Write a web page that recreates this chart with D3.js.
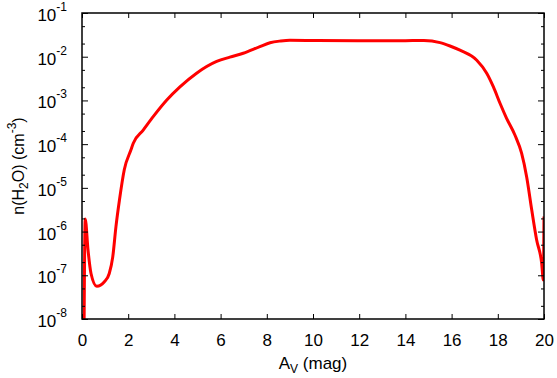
<!DOCTYPE html>
<html>
<head>
<meta charset="utf-8">
<script src="https://cdn.jsdelivr.net/npm/d3@7"></script>
<style>
  body { margin: 0; background: #fff; }
  svg { display: block; }
  text { font-family: "Liberation Sans", Arial, sans-serif; fill: #000; }
</style>
</head>
<body>
<div class="container"></div>
<script>
// visual extinction (mag) and water density (cm^-3)
const av = [0.08, 0.14, 0.26, 0.39, 0.64, 0.97, 1.18, 1.33, 1.47, 1.62, 1.83, 2.12, 2.22, 2.65,
    3.09, 3.67, 4.24, 4.96, 5.83, 6.4, 6.98, 7.7, 8.14, 8.6, 9.0, 10.2, 12.0, 14.0, 14.8, 15.5,
    15.93, 16.36, 17.09, 17.52, 17.81, 18.1, 18.38, 18.74, 19.03, 19.25, 19.47, 19.68,
    19.9, 19.97, 20.0]
const nH2O = [1e-9, 1.95e-6, 3.8e-7, 1.1e-7, 5.6e-8, 7.1e-8, 1.1e-7, 2.6e-7, 1.3e-6, 5.2e-6,
    2.6e-5, 7.4e-5, 1.05e-4, 2.1e-4, 4.3e-4, 1.02e-3, 2.04e-3, 4.2e-3, 7.8e-3, 9.8e-3,
    1.2e-2, 1.7e-2, 2.09e-2, 2.29e-2, 2.38e-2, 2.34e-2, 2.32e-2, 2.33e-2, 2.34e-2, 2.1e-2,
    1.76e-2, 1.41e-2, 8.3e-3, 4.2e-3, 2.04e-3, 8.5e-4, 3.9e-4, 1.62e-4, 6.2e-5, 1.78e-5,
    3.1e-6, 6.5e-7, 1.86e-7, 7.8e-8, 2.2e-6]

const xTicks = [0, 2, 4, 6, 8, 10, 12, 14, 16, 18, 20]
const yTicks = [1e-8, 1e-7, 1e-6, 1e-5, 1e-4, 1e-3, 1e-2, 1e-1]
const yMinor = yTicks.slice(0, -1).flatMap(d => [2 * d, 5 * d])

const data = av.map((d, i) => ({av: d, n: nH2O[i]}))

const outerWidth = 557
const outerHeight = 378
const margin = {top: 13, bottom: 59, left: 82, right: 13}
const width = outerWidth - margin.left - margin.right
const height = outerHeight - margin.top - margin.bottom

const svg = d3.select(".container")
    .append("svg")
    .attr("width", outerWidth)
    .attr("height", outerHeight)
    .append("g")
    .attr("transform", `translate(${margin.left}, ${margin.top})`)

const x = d3.scaleLinear().domain([0, 20]).range([0, width])
const y = d3.scaleLog().domain([1e-8, 1e-1]).range([height, 0])

svg.append("clipPath").attr("id", "clip")
    .append("rect").attr("width", width).attr("height", height)

// curve
const line = d3.line()
    .x(d => x(d.av))
    .y(d => y(d.n))
    .curve(d3.curveMonotoneX)

svg.append("path")
    .datum(data)
    .attr("clip-path", "url(#clip)")
    .attr("d", line)
    .attr("fill", "none")
    .attr("stroke", "#ff0000")
    .attr("stroke-width", 3)
    .attr("stroke-linejoin", "round")

// axes, ticks pointing inward
const styleAxis = g => {
    g.select(".domain").remove()
    g.selectAll(".tick line").attr("stroke", "#000").attr("stroke-width", 1)
}

svg.append("g")
    .attr("transform", `translate(0, ${height})`)
    .call(d3.axisBottom(x).tickValues(xTicks).tickSize(-5).tickPadding(15).tickFormat(d3.format("d")))
    .call(styleAxis)
    .call(g => g.selectAll("text").attr("font-size", 17).attr("font-family", "Liberation Sans, Arial, sans-serif"))

svg.append("g")
    .call(d3.axisTop(x).tickValues(xTicks).tickSize(-5).tickFormat(""))
    .call(styleAxis)

svg.append("g")
    .call(d3.axisLeft(y).tickValues(yTicks).tickSize(-6).tickFormat(""))
    .call(styleAxis)

svg.append("g")
    .call(d3.axisLeft(y).tickValues(yMinor).tickSize(-3).tickFormat(""))
    .call(styleAxis)

svg.append("g")
    .attr("transform", `translate(${width}, 0)`)
    .call(d3.axisRight(y).tickValues(yTicks).tickSize(-6).tickFormat(""))
    .call(styleAxis)

svg.append("g")
    .attr("transform", `translate(${width}, 0)`)
    .call(d3.axisRight(y).tickValues(yMinor).tickSize(-3).tickFormat(""))
    .call(styleAxis)

// y tick labels as 10^n
const yLab = svg.append("g").selectAll("text")
    .data(yTicks)
    .join("text")
    .attr("x", -15)
    .attr("y", d => y(d) + 8)
    .attr("text-anchor", "end")
    .attr("font-size", 17)

yLab.append("tspan").text("10")
yLab.append("tspan")
    .attr("dy", -10)
    .attr("font-size", 12)
    .text(d => Math.round(Math.log10(d)))

// frame
svg.append("rect")
    .attr("width", width)
    .attr("height", height)
    .attr("fill", "none")
    .attr("stroke", "#000")
    .attr("stroke-width", 1.5)

// axis titles
const xTitle = svg.append("text")
    .attr("x", width / 2)
    .attr("y", height + 50)
    .attr("text-anchor", "middle")
    .attr("font-size", 17)
xTitle.append("tspan").text("A")
xTitle.append("tspan").attr("dy", 4).attr("font-size", 12).text("V")
xTitle.append("tspan").attr("dy", -4).text(" (mag)")

const yTitle = svg.append("text")
    .attr("transform", `translate(${-58}, ${height / 2}) rotate(-90)`)
    .attr("text-anchor", "middle")
    .attr("font-size", 16)
yTitle.append("tspan").text("n(H")
yTitle.append("tspan").attr("dy", 4).attr("font-size", 12).text("2")
yTitle.append("tspan").attr("dy", -4).text("O) (cm")
yTitle.append("tspan").attr("dy", -8).attr("font-size", 12).text("-3")
yTitle.append("tspan").attr("dy", 8).text(")")
</script>
</body>
</html>
